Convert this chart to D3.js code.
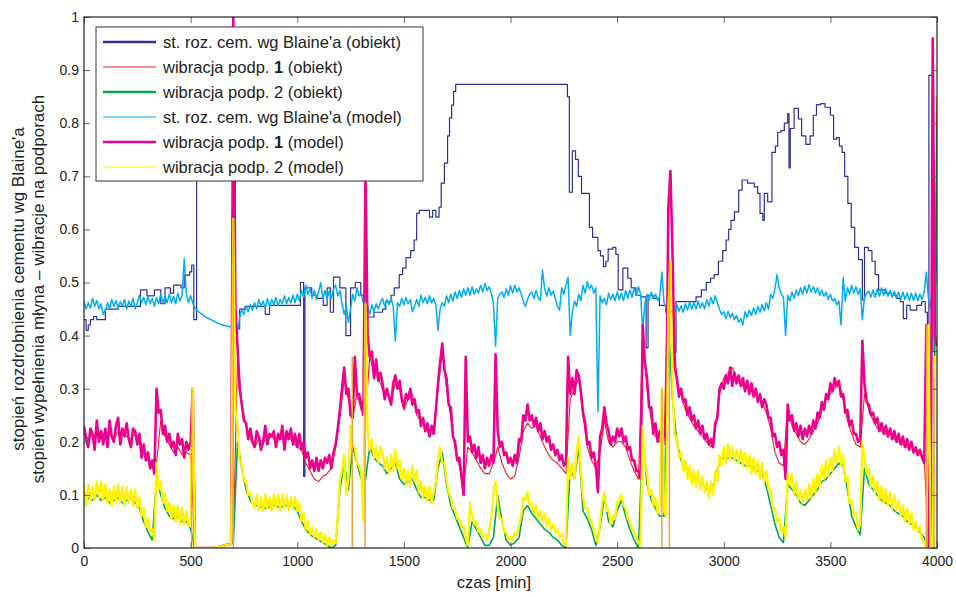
<!DOCTYPE html>
<html>
<head>
<meta charset="utf-8">
<script src="https://cdn.jsdelivr.net/npm/d3@7"></script>
<style>
  body { margin: 0; background: #fff; }
  svg { display: block; font-family: "Liberation Sans", Arial, sans-serif; }
</style>
</head>
<body>
<svg id="chart" width="956" height="597"></svg>
<script>
// ---- data ----
const xTicks = [0, 500, 1000, 1500, 2000, 2500, 3000, 3500, 4000];
const yTicks = [0, 0.1, 0.2, 0.3, 0.4, 0.5, 0.6, 0.7, 0.8, 0.9, 1];

const seriesLabels = [
  ["st. roz. cem. wg Blaine'a (obiekt)", null],
  ["wibracja podp. ", "1", " (obiekt)"],
  ["wibracja podp. 2 (obiekt)", null],
  ["st. roz. cem. wg Blaine'a (model)", null],
  ["wibracja podp. ", "1", " (model)"],
  ["wibracja podp. 2 (model)", null]
];

// st. roz. cem. wg Blaine'a (obiekt): lab samples, held until next one [min, value]
const blaineObj = [
  [0,0.43],[10,0.41],[20,0.42],[30,0.43],[45,0.436],[60,0.43],[100,0.45],[160,0.455],[265,0.486],[295,0.475],
  [330,0.486],[360,0.46],[380,0.49],[405,0.48],[420,0.495],[455,0.49],[470,0.514],[495,0.52],[505,0.533],[515,0.43],
  [528,0.75],[710,0.413],[730,0.45],[755,0.455],[850,0.44],[870,0.457],[1015,0.50],[1030,0.135],[1036,0.49],[1068,0.476],
  [1095,0.47],[1122,0.457],[1140,0.49],[1155,0.444],[1170,0.51],[1200,0.49],[1228,0.40],[1250,0.49],[1272,0.50],[1298,0.476],
  [1315,0.457],[1330,0.435],[1360,0.444],[1400,0.45],[1415,0.464],[1440,0.476],[1455,0.49],[1478,0.515],[1494,0.527],[1510,0.547],
  [1532,0.56],[1548,0.58],[1560,0.63],[1572,0.636],[1620,0.623],[1635,0.636],[1650,0.623],[1665,0.642],[1675,0.687],[1690,0.725],
  [1705,0.776],[1714,0.81],[1724,0.834],[1733,0.86],[1743,0.873],[2267,0.85],[2276,0.67],[2290,0.748],[2305,0.732],[2318,0.70],
  [2333,0.668],[2370,0.604],[2385,0.585],[2410,0.56],[2422,0.55],[2436,0.53],[2447,0.54],[2458,0.563],[2480,0.566],[2494,0.553],
  [2505,0.486],[2527,0.527],[2550,0.508],[2566,0.49],[2588,0.476],[2612,0.473],[2636,0.377],[2645,0.476],[2668,0.47],[2698,0.457],
  [2728,0.444],[2756,0.368],[2776,0.464],[2870,0.473],[2895,0.486],[2918,0.50],[2938,0.508],[2955,0.515],[2975,0.54],[2995,0.56],
  [3011,0.58],[3023,0.60],[3034,0.617],[3050,0.633],[3070,0.674],[3086,0.693],[3112,0.687],[3143,0.68],[3159,0.668],[3170,0.63],
  [3183,0.617],[3190,0.668],[3206,0.652],[3226,0.745],[3242,0.757],[3253,0.783],[3268,0.786],[3284,0.80],[3300,0.818],[3306,0.716],
  [3312,0.79],[3330,0.828],[3350,0.808],[3365,0.776],[3385,0.76],[3405,0.776],[3420,0.815],[3435,0.835],[3455,0.837],[3475,0.83],
  [3500,0.815],[3515,0.77],[3530,0.773],[3542,0.757],[3555,0.745],[3567,0.70],[3582,0.649],[3598,0.604],[3614,0.566],[3632,0.543],
  [3650,0.467],[3660,0.566],[3678,0.56],[3695,0.54],[3710,0.515],[3726,0.486],[3757,0.48],[3788,0.476],[3812,0.47],[3828,0.464],
  [3842,0.432],[3858,0.457],[3874,0.448],[3905,0.457],[3928,0.464],[3945,0.444],[3955,0.378],[3962,0.89],[3981,0.37],[4000,0.37]
];

// wibracja podp. 1 (obiekt), every 20 min
const vib1Obj = [
  .22,.205,.215,.21,.22,.21,.215,.205,.22,.215,
  .21,.205,.215,.205,.18,.165,.15,.16,.24,.21,
  .195,.18,.19,.175,.18,.175,0,0,0,0,
  0,.001,.003,.005,.007,.009,.36,.27,.23,.205,
  .19,.205,.20,.205,.21,.20,.205,.205,.21,.20,
  .19,.185,.16,.145,.13,.125,.135,.14,.15,.19,
  .245,.32,.28,.245,.29,.26,.25,.36,.33,.32,
  .30,.29,.28,.31,.30,.26,.28,.29,.25,.24,
  .225,.215,.215,.30,.37,.30,.245,.19,.155,.115,
  .19,.18,.165,.15,.14,.14,.16,.19,.16,.14,
  .13,.135,.17,.22,.235,.225,.23,.21,.19,.175,
  .165,.16,.15,.14,.28,.30,.32,.25,.19,.165,
  .15,.18,.24,.20,.19,.20,.20,.19,.165,.145,
  .13,.40,.30,.24,.21,.20,.195,.55,.45,.31,
  .29,.26,.245,.23,.22,.21,.20,.19,.22,.29,
  .32,.33,.34,.32,.31,.30,.30,.29,.285,.275,
  .255,.225,.18,.16,.155,.27,.23,.215,.20,.195,
  .205,.22,.235,.26,.28,.29,.30,.31,.28,.24,
  .215,.195,.19,.29,.26,.24,.225,.22,.215,.215,
  .205,.20,.195,.19,.19,.185,.18,.17,0,0,
  .85
];

// wibracja podp. 2 (obiekt), every 20 min
const vib2Obj = [
  .085,.095,.09,.10,.09,.095,.085,.09,.095,.085,
  .09,.095,.085,.075,.05,.03,.015,.13,.10,.075,
  .06,.055,.06,.05,.05,.035,0,0,0,0,
  0,.001,.003,.005,.007,.009,.20,.15,.11,.09,
  .08,.08,.075,.075,.08,.08,.075,.08,.08,.08,
  .07,.05,.035,.025,.02,.015,.01,.005,0,.005,
  .11,.16,.11,.19,.16,.13,.13,.19,.17,.16,
  .155,.14,.15,.16,.13,.12,.125,.13,.11,.095,
  .095,.09,.09,.15,.18,.12,.08,.06,.04,.02,
  0,.05,.035,.02,.005,.005,.02,.10,.05,.015,
  .005,.01,.02,.07,.08,.065,.055,.045,.035,.03,
  .02,.015,.005,0,.15,.13,.19,.07,.055,.035,
  .005,.04,.095,.05,.04,.07,.09,.06,.035,.015,
  0,.21,.12,.09,.075,.06,.06,.42,.28,.20,
  .165,.15,.14,.135,.13,.12,.11,.11,.13,.16,
  .17,.17,.17,.165,.16,.155,.155,.15,.145,.14,
  .115,.08,.045,.02,.01,.12,.11,.10,.085,.08,
  .09,.10,.11,.125,.13,.14,.15,.16,.155,.11,
  .06,.04,.025,.15,.12,.11,.10,.09,.085,.08,
  .07,.065,.06,.05,.045,.04,.03,.02,0,0,
  .79
];

// st. roz. cem. wg Blaine'a (model), every 10 min
const blaineModel = [
  .465,.45,.462,.452,.47,.455,.466,.45,.46,.44,
  .448,.462,.45,.468,.455,.466,.452,.464,.455,.468,
  .45,.465,.455,.47,.45,.462,.476,.462,.472,.458,
  .474,.46,.47,.455,.472,.46,.478,.462,.474,.462,
  .478,.462,.474,.46,.48,.465,.476,.545,.478,.462,
  .475,.462,.452,.448,.444,.441,.438,.435,.433,.431,
  .429,.427,.425,.423,.421,.42,.419,.418,.417,.416,
  .415,.43,.405,.435,.448,.44,.455,.445,.458,.448,
  .462,.45,.468,.455,.465,.452,.47,.455,.468,.458,
  .472,.456,.468,.46,.475,.46,.472,.462,.476,.462,
  .478,.465,.485,.472,.495,.478,.488,.47,.485,.468,
  .482,.50,.47,.485,.468,.484,.47,.488,.495,.475,
  .485,.46,.44,.455,.425,.45,.478,.465,.49,.475,
  .478,.462,.45,.455,.44,.458,.445,.46,.45,.462,
  .47,.455,.468,.458,.47,.455,.39,.462,.455,.47,
  .458,.472,.46,.468,.445,.455,.468,.455,.476,.462,
  .472,.46,.475,.462,.47,.458,.41,.45,.462,.455,
  .475,.462,.478,.465,.482,.47,.485,.472,.488,.476,
  .49,.476,.492,.478,.488,.48,.495,.482,.498,.485,
  .492,.48,.46,.38,.47,.478,.482,.472,.488,.476,
  .494,.48,.495,.482,.49,.478,.465,.455,.468,.478,
  .482,.47,.485,.472,.466,.524,.488,.474,.49,.476,
  .484,.47,.455,.448,.49,.478,.495,.51,.40,.445,
  .465,.455,.478,.466,.495,.48,.502,.488,.495,.48,
  .49,.256,.475,.462,.47,.458,.48,.468,.478,.465,
  .482,.468,.48,.466,.485,.47,.486,.472,.49,.476,
  .492,.478,.41,.46,.478,.466,.482,.47,.478,.466,
  .475,.52,.462,.452,.455,.445,.454,.442,.458,.446,
  .456,.444,.46,.448,.463,.45,.462,.45,.465,.452,
  .462,.45,.468,.455,.472,.46,.475,.462,.45,.44,
  .445,.432,.446,.434,.442,.43,.438,.425,.432,.42,
  .445,.434,.448,.438,.452,.44,.455,.444,.458,.447,
  .462,.45,.478,.47,.488,.515,.49,.478,.472,.40,
  .476,.465,.482,.47,.486,.475,.49,.478,.493,.48,
  .496,.482,.492,.48,.49,.476,.486,.474,.482,.468,
  .478,.465,.47,.458,.465,.42,.51,.465,.49,.478,
  .495,.48,.492,.478,.488,.43,.472,.48,.484,.472,
  .486,.472,.488,.474,.49,.476,.488,.474,.485,.472,
  .484,.47,.482,.468,.482,.468,.48,.466,.48,.466,
  .48,.466,.478,.468,.482,.52,.47,.45,.50,.48,
  .56
];

// wibracja podp. 1 (model), every 10 min
const vib1Model = [
  .23,.205,.19,.225,.215,.185,.24,.20,.22,.195,
  .225,.19,.24,.21,.20,.23,.245,.195,.225,.21,
  .235,.205,.19,.225,.22,.195,.215,.17,.195,.165,
  .18,.15,.165,.14,.30,.255,.26,.215,.23,.20,
  .215,.19,.20,.175,.215,.195,.205,.17,.20,.185,
  .20,.30,0,0,0,0,0,0,0,0,
  0,0,.001,.002,.003,.004,.005,.006,.007,.008,
  1.0,.45,.38,.30,.27,.24,.235,.205,.225,.20,
  .19,.22,.21,.185,.20,.23,.195,.215,.21,.22,
  .19,.215,.205,.23,.185,.22,.205,.225,.195,.215,
  .19,.215,.185,.20,.17,.18,.15,.165,.145,.17,
  .145,.165,.15,.17,.16,.175,.15,.18,.195,.225,
  .26,.30,.34,.29,.30,.25,.245,.36,.29,.29,
  .27,.25,.71,.40,.36,.37,.32,.355,.315,.33,
  .31,.28,.30,.285,.27,.31,.325,.30,.315,.28,
  .265,.29,.28,.30,.27,.28,.255,.26,.23,.245,
  .22,.235,.21,.23,.215,.26,.31,.35,.385,.335,
  .32,.27,.265,.21,.20,.165,.17,.135,.10,.36,
  .20,.21,.18,.195,.17,.19,.16,.175,.15,.17,
  .155,.175,.16,.365,.22,.19,.20,.175,.18,.16,
  .17,.155,.175,.16,.205,.20,.25,.24,.27,.24,
  .25,.23,.245,.22,.235,.205,.22,.20,.21,.185,
  .195,.175,.185,.165,.175,.155,.16,.36,.29,.32,
  .29,.335,.325,.295,.255,.235,.195,.20,.17,.18,
  .155,.105,.21,.225,.265,.235,.22,.195,.21,.20,
  .225,.21,.225,.20,.21,.185,.19,.165,.165,.145,
  .145,.13,.42,.35,.32,.265,.265,.215,.235,.20,
  .22,.20,.22,.205,.64,.71,.55,.34,.32,.285,
  .30,.275,.28,.25,.265,.24,.25,.225,.24,.215,
  .23,.205,.215,.195,.205,.19,.235,.245,.30,.31,
  .30,.325,.31,.34,.305,.33,.31,.325,.305,.32,
  .295,.315,.29,.31,.285,.30,.275,.29,.265,.28,
  .27,.245,.245,.21,.215,.19,.20,.175,.185,.13,
  .27,.24,.25,.22,.235,.21,.23,.205,.225,.21,
  .23,.215,.24,.225,.255,.245,.275,.26,.29,.28,
  .31,.295,.32,.305,.315,.285,.29,.255,.26,.23,
  .24,.215,.215,.20,.205,.39,.31,.275,.27,.25,
  .255,.235,.245,.22,.235,.215,.23,.21,.225,.205,
  .22,.20,.215,.195,.21,.19,.205,.185,.20,.18,
  .19,.175,.185,.17,.16,.42,0,0,.96,.40,
  .38
];

// wibracja podp. 2 (model), every 10 min
const vib2Model = [
  .115,.08,.12,.085,.115,.09,.125,.095,.125,.09,
  .12,.085,.11,.08,.115,.085,.12,.085,.115,.08,
  .115,.085,.11,.08,.11,.075,.095,.06,.075,.04,
  .055,.03,.035,.015,.16,.11,.125,.085,.10,.07,
  .085,.055,.08,.05,.08,.045,.075,.045,.07,.04,
  .05,.30,0,0,0,0,0,0,0,0,
  0,0,.001,.002,.003,.004,.005,.006,.007,.008,
  .62,.26,.23,.165,.155,.125,.125,.10,.105,.085,
  .075,.10,.07,.095,.07,.10,.075,.095,.07,.10,
  .075,.10,.07,.10,.075,.10,.07,.095,.075,.095,
  .07,.085,.05,.065,.035,.05,.025,.04,.02,.035,
  .015,.03,.01,.025,.005,.02,.005,.015,.01,.06,
  .13,.145,.175,.10,.13,.23,.195,.19,.16,.155,
  .14,.05,.46,.22,.185,.205,.17,.19,.16,.19,
  .18,.15,.17,.14,.175,.145,.185,.15,.165,.13,
  .15,.12,.145,.115,.155,.125,.145,.105,.125,.095,
  .115,.09,.115,.085,.105,.125,.165,.19,.16,.16,
  .13,.105,.095,.075,.075,.055,.055,.04,.04,.02,
  .005,.085,.06,.045,.05,.03,.035,.02,.025,.015,
  .035,.06,.105,.125,.08,.055,.055,.03,.03,.015,
  .02,.015,.03,.025,.045,.06,.095,.09,.105,.08,
  .085,.065,.08,.055,.07,.05,.065,.04,.055,.035,
  .045,.03,.035,.02,.025,.01,.005,.17,.13,.16,
  .13,.18,.21,.145,.095,.075,.075,.055,.05,.035,
  .02,.01,.05,.085,.105,.07,.07,.045,.06,.055,
  .085,.09,.10,.08,.075,.055,.05,.035,.03,.02,
  .01,.005,.23,.16,.14,.10,.11,.08,.095,.065,
  .08,.30,.07,.06,.45,.54,.30,.21,.21,.17,
  .18,.145,.165,.13,.155,.12,.145,.115,.145,.11,
  .135,.105,.125,.095,.125,.10,.145,.125,.175,.155,
  .19,.16,.195,.165,.19,.165,.185,.16,.185,.155,
  .18,.15,.175,.14,.17,.14,.165,.13,.16,.125,
  .145,.11,.11,.075,.075,.05,.055,.03,.04,.02,
  .14,.12,.14,.10,.125,.09,.11,.085,.11,.09,
  .12,.095,.13,.105,.14,.115,.155,.13,.165,.135,
  .17,.145,.185,.16,.19,.155,.175,.125,.135,.085,
  .09,.06,.065,.035,.045,.20,.17,.14,.15,.115,
  .135,.105,.125,.09,.115,.085,.11,.08,.105,.075,
  .10,.07,.09,.06,.08,.05,.075,.045,.065,.035,
  .05,.03,.04,.015,.01,0,.42,0,0,.36,
  .36
];

// short vertical restarts drawn orange in the figure [min, top]
const restartSpikes = [[505,0.30],[700,0.62],[1258,0.36],[1318,0.46],[2710,0.30],[2745,0.54],[3951,0.42],[3986,0.32]];

// ---- layout ----
const margin = { top: 17, right: 19, bottom: 49, left: 84 };
const W = 956, H = 597;
const width = W - margin.left - margin.right;
const height = H - margin.top - margin.bottom;

const colors = ["#2e3192", "#ed1c24", "#00a651", "#00aeef", "#ec008c", "#fff200"];
const legendWidths = [2.5, 1, 2.5, 1, 2.5, 1];

const svg = d3.select("#chart");
const g = svg.append("g").attr("transform", `translate(${margin.left},${margin.top})`);

const x = d3.scaleLinear().domain([0, 4000]).range([0, width]);
const y = d3.scaleLinear().domain([0, 1]).range([height, 0]);

svg.append("defs").append("clipPath").attr("id", "plotClip")
  .append("rect").attr("width", width).attr("height", height);

// helper: values on a regular time grid -> [t, v] points
const onGrid = (vals, step) => vals.map((v, i) => [i * step, v]);

const line = d3.line().x(d => x(d[0])).y(d => y(d[1]));
const stepLine = d3.line().x(d => x(d[0])).y(d => y(d[1])).curve(d3.curveStepAfter);

const plot = g.append("g").attr("clip-path", "url(#plotClip)");

// drawing order as in the legend, later series on top
const drawn = [
  { pts: blaineObj, gen: stepLine, c: colors[0], w: 1.2 },
  { pts: onGrid(vib1Obj, 20), gen: line, c: colors[1], w: 1.1 },
  { pts: onGrid(vib2Obj, 20), gen: line, c: colors[2], w: 1.6 },
  { pts: onGrid(blaineModel, 10), gen: line, c: colors[3], w: 1.5 },
  { pts: onGrid(vib1Model, 10), gen: line, c: colors[4], w: 2.6 },
  { pts: onGrid(vib2Model, 10), gen: line, c: colors[5], w: 2.3 }
];

drawn.forEach(s => {
  plot.append("path")
    .attr("d", s.gen(s.pts))
    .attr("fill", "none")
    .attr("stroke", s.c)
    .attr("stroke-width", s.w)
    .attr("stroke-linejoin", "round");
});

plot.selectAll("line.restart")
  .data(restartSpikes)
  .join("line")
  .attr("class", "restart")
  .attr("x1", d => x(d[0])).attr("x2", d => x(d[0]))
  .attr("y1", y(0)).attr("y2", d => y(d[1]))
  .attr("stroke", "#e9a33c")
  .attr("stroke-width", 1.5);

// ---- axes (ticks inward, on all four sides) ----
const fmtY = d => (d === 0 || d === 1) ? String(d) : d.toFixed(1);

const styleAxis = sel => {
  sel.select(".domain").remove();
  sel.selectAll(".tick line").attr("stroke", "#666");
  sel.selectAll(".tick text").attr("fill", "#222").style("font-size", "14px")
    .style("font-family", '"Liberation Sans", Arial, sans-serif');
};

g.append("g").attr("transform", `translate(0,${height})`)
  .call(d3.axisBottom(x).tickValues(xTicks).tickFormat(d3.format("d")).tickSizeInner(-6).tickSizeOuter(0).tickPadding(8))
  .call(styleAxis);
g.append("g")
  .call(d3.axisTop(x).tickValues(xTicks).tickFormat("").tickSizeInner(-6).tickSizeOuter(0))
  .call(styleAxis);
g.append("g")
  .call(d3.axisLeft(y).tickValues(yTicks).tickFormat(fmtY).tickSizeInner(-6).tickSizeOuter(0).tickPadding(5))
  .call(styleAxis);
g.append("g").attr("transform", `translate(${width},0)`)
  .call(d3.axisRight(y).tickValues(yTicks).tickFormat("").tickSizeInner(-6).tickSizeOuter(0))
  .call(styleAxis);

g.append("rect")
  .attr("width", width).attr("height", height)
  .attr("fill", "none").attr("stroke", "#222").attr("stroke-width", 1.2);

// axis titles
svg.append("text")
  .attr("x", 494).attr("y", 588)
  .attr("text-anchor", "middle")
  .style("font-size", "16.5px").attr("fill", "#222")
  .text("czas [min]");

const yTitle = svg.append("text")
  .attr("transform", "translate(24,289) rotate(-90)")
  .attr("text-anchor", "middle")
  .style("font-size", "17px").attr("fill", "#222");
yTitle.append("tspan").attr("x", 0).attr("y", 0).text("stopień rozdrobnienia cementu wg Blaine'a");
yTitle.append("tspan").attr("x", 0).attr("y", 20).text("stopień wypełnienia młyna – wibracje na podporach");

// ---- legend ----
const legend = svg.append("g").attr("transform", "translate(96,27)");
legend.append("rect")
  .attr("width", 327).attr("height", 154)
  .attr("fill", "#fff").attr("stroke", "#333").attr("stroke-width", 1);

const rows = legend.selectAll("g.item")
  .data(seriesLabels)
  .join("g")
  .attr("class", "item")
  .attr("transform", (d, i) => `translate(0,${15 + i * 25})`);

rows.append("line")
  .attr("x1", 7).attr("x2", 60)
  .attr("stroke", (d, i) => colors[i])
  .attr("stroke-width", (d, i) => legendWidths[i]);

const labels = rows.append("text")
  .attr("x", 67).attr("dy", "0.36em")
  .style("font-size", "16.5px").attr("fill", "#222");
labels.each(function(d) {
  const t = d3.select(this);
  if (d[1] === null) { t.text(d[0]); return; }
  t.append("tspan").text(d[0]);
  t.append("tspan").style("font-weight", "bold").text(d[1]);
  t.append("tspan").text(d[2]);
});
</script>
</body>
</html>
